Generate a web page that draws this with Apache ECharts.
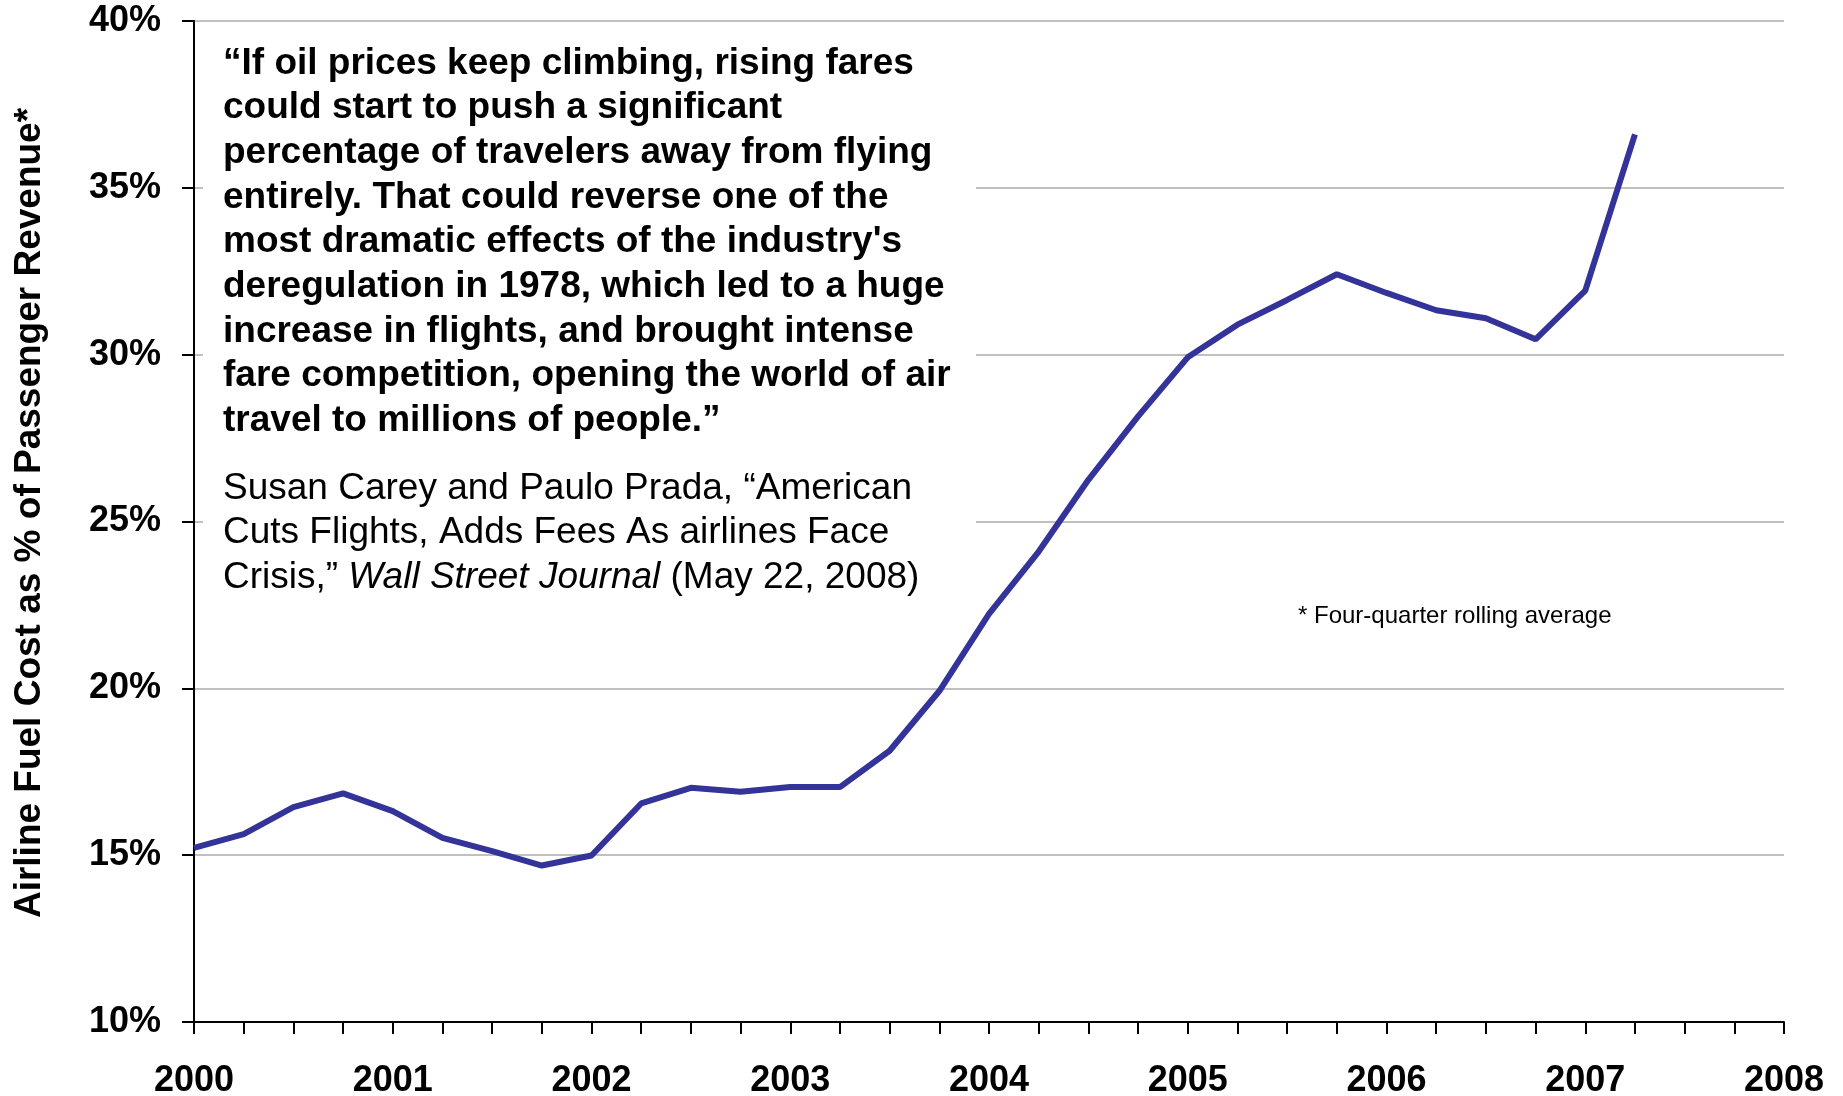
<!DOCTYPE html>
<html>
<head>
<meta charset="utf-8">
<script src="https://cdn.jsdelivr.net/npm/echarts@6/dist/echarts.min.js"></script>
<style>
html,body{margin:0;padding:0;background:#fff;}
#chart{width:1843px;height:1096px;}
</style>
</head>
<body>
<div id="chart"></div>
<script>
// Quarter positions (year fractions)
var quarters = [2000, 2000.25, 2000.5, 2000.75, 2001, 2001.25, 2001.5, 2001.75,
  2002, 2002.25, 2002.5, 2002.75, 2003, 2003.25, 2003.5, 2003.75,
  2004, 2004.25, 2004.5, 2004.75, 2005, 2005.25, 2005.5, 2005.75,
  2006, 2006.25, 2006.5, 2006.75, 2007, 2007.25];
// Airline fuel cost as % of passenger revenue (four-quarter rolling average)
var fuelShare = [15.22, 15.63, 16.44, 16.85, 16.32, 15.52, 15.12, 14.69,
  14.99, 16.55, 17.02, 16.90, 17.04, 17.04, 18.13, 19.92,
  22.23, 24.10, 26.25, 28.15, 29.92, 30.90, 31.64, 32.41,
  31.85, 31.33, 31.09, 30.46, 31.92, 36.60];
var yTicks = [10, 15, 20, 25, 30, 35, 40];
var yearLabels = ['2000','2001','2002','2003','2004','2005','2006','2007','2008'];

var yAxisTitle = 'Airline Fuel Cost as % of Passenger Revenue*';
var quoteText = '\u201CIf oil prices keep climbing, rising fares\ncould start to push a significant\npercentage of travelers away from flying\nentirely. That could reverse one of the\nmost dramatic effects of the industry\'s\nderegulation in 1978, which led to a huge\nincrease in flights, and brought intense\nfare competition, opening the world of air\ntravel to millions of people.\u201D';
var citationText = 'Susan Carey and Paulo Prada, \u201CAmerican\nCuts Flights, Adds Fees As airlines Face\nCrisis,\u201D {i|Wall Street Journal} (May 22, 2008)';
var footnote = '* Four-quarter rolling average';

var FONT = '"Liberation Sans", Arial, Helvetica, sans-serif';
var seriesData = quarters.map(function (q, i) { return [q, fuelShare[i]]; });

var chart = echarts.init(document.getElementById('chart'), null, {renderer: 'canvas'});
chart.setOption({
  backgroundColor: '#ffffff',
  animation: false,
  grid: {left: 194, right: 59, top: 21, bottom: 74, containLabel: false, outerBoundsMode: 'none'},
  xAxis: {
    type: 'value', min: 2000, max: 2008, interval: 0.25,
    axisLine: {show: true, lineStyle: {color: '#000', width: 2}},
    axisTick: {show: true, length: 12, lineStyle: {color: '#000', width: 2}},
    splitLine: {show: false},
    axisLabel: {
      margin: 41, fontFamily: FONT, fontSize: 36, fontWeight: 'bold', color: '#000',
      formatter: function (v) {
        var r = Math.round(v);
        if (Math.abs(v - r) < 1e-6) { return yearLabels[r - 2000] || ''; }
        return '';
      }
    }
  },
  yAxis: {
    type: 'value', min: yTicks[0], max: yTicks[yTicks.length - 1], interval: 5,
    axisLine: {show: true, lineStyle: {color: '#000', width: 2}},
    axisTick: {show: true, length: 12, lineStyle: {color: '#000', width: 2}},
    splitLine: {show: true, lineStyle: {color: '#c0c0c0', width: 2}},
    axisLabel: {
      margin: 33, fontFamily: FONT, fontSize: 36, fontWeight: 'bold', color: '#000',
      formatter: '{value}%'
    }
  },
  series: [{
    type: 'line', data: seriesData, showSymbol: false, symbol: 'none',
    lineStyle: {color: '#333399', width: 6}, z: 5
  }],
  graphic: [
    {type: 'rect', shape: {x: 203, y: 30, width: 773, height: 570}, style: {fill: '#ffffff'}, z: 1, silent: true},
    {type: 'text', x: 223, y: 41, z: 10, style: {
      text: quoteText, fontFamily: FONT, fontSize: 37, fontWeight: 'bold', fill: '#000',
      lineHeight: 44.7, textAlign: 'left', textVerticalAlign: 'top'
    }},
    {type: 'text', x: 223, y: 466, z: 10, style: {
      text: citationText, fontFamily: FONT, fontSize: 37, fontWeight: 'normal', fill: '#000',
      lineHeight: 44.7, textAlign: 'left', textVerticalAlign: 'top',
      rich: {i: {fontStyle: 'italic', fontFamily: FONT, fontSize: 37, lineHeight: 44.7, fill: '#000'}}
    }},
    {type: 'text', x: 1298, y: 616, z: 10, style: {
      text: footnote, fontFamily: FONT, fontSize: 24, fill: '#000',
      textAlign: 'left', textVerticalAlign: 'middle'
    }},
    {type: 'text', x: 30, y: 513, rotation: Math.PI / 2, z: 10, style: {
      text: yAxisTitle, fontFamily: FONT, fontSize: 37, fontWeight: 'bold', fill: '#000',
      textAlign: 'center', textVerticalAlign: 'middle'
    }}
  ]
});
</script>
</body>
</html>
